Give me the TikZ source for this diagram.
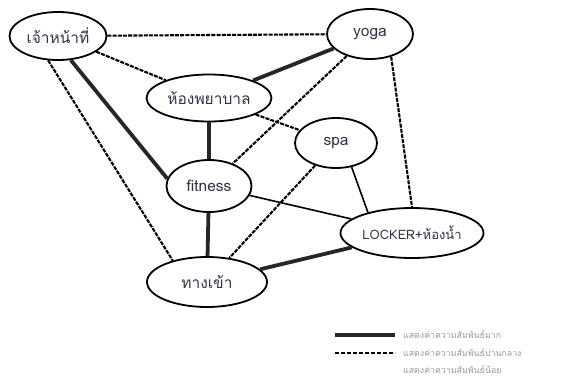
\documentclass[tikz,border=0pt]{standalone}
\usepackage{fontspec}
\setmainfont{Loma}[Script=Thai]
\usetikzlibrary{shapes.geometric}
\definecolor{ink}{RGB}{50,50,70}
\tikzset{
  place/.style={ellipse, draw, line width=1.8pt, inner sep=0pt, font=\fontsize{15.5}{18}\selectfont, text=ink},
  strong/.style={line width=3.8pt, draw=black!85},
  medium/.style={line width=2.1pt, dash pattern=on 4pt off 1.2pt},
  weak/.style={line width=1.6pt},
  legendtext/.style={anchor=west, font=\fontsize{8.8}{10}\selectfont, text=black!40, inner sep=0pt}
}
\begin{document}
\begin{tikzpicture}[x=1pt, y=-1pt]
\useasboundingbox (0,0) rectangle (571,391);

% places
\node[place, minimum width=97pt, minimum height=48pt] (staff)   at (58,36)   {เจ้าหน้าที่};
\node[place, minimum width=86pt, minimum height=50pt] (yoga)    at (370,34)  {yoga};
\node[place, minimum width=125pt, minimum height=47pt] (clinic) at (209,98)  {ห้องพยาบาล};
\node[place, minimum width=82pt, minimum height=50pt] (spa)     at (336,143) {spa};
\node[place, minimum width=85pt, minimum height=52pt] (fitness) at (209,186) {fitness};
\node[place, minimum width=120pt, minimum height=50pt] (entry)  at (207,282) {ทางเข้า};
\node[place, minimum width=143pt, minimum height=50pt, font=\fontsize{13}{15}\selectfont] (locker) at (412,233) {LOCKER+ห้องน้ำ};

% strong relations
\draw[strong] (staff.-62) -- (fitness.170);
\draw[strong] (clinic) -- (yoga);
\draw[strong] (clinic) -- (fitness);
\draw[strong] (fitness) -- (entry);
\draw[strong] (entry) -- (locker);

% medium relations
\draw[medium] (staff) -- (yoga);
\draw[medium] (staff) -- (clinic);
\draw[medium] (staff.-112) -- (entry.148);
\draw[medium] (yoga) -- (fitness);
\draw[medium] (yoga.-47) -- (locker.north);
\draw[medium] (clinic) -- (spa);
\draw[medium] (spa) -- (entry);

% weak relations
\draw[weak] (fitness) -- (locker);
\draw[weak] (spa.-57) -- (locker.155);

% legend
\coordinate (l1a) at (335,335); \coordinate (l1b) at (395,335);
\coordinate (l2a) at (335,353); \coordinate (l2b) at (395,353);
\draw[line width=4pt, draw=black!85] (l1a) -- (l1b);
\draw[line width=2.2pt, dash pattern=on 4pt off 2pt] (l2a) -- (l2b);
\node[legendtext] (t1) at (403,335) {แสดงค่าความสัมพันธ์มาก};
\node[legendtext] (t2) at (403,353) {แสดงค่าความสัมพันธ์ปานกลาง};
\node[legendtext] (t3) at (403,370) {แสดงค่าความสัมพันธ์น้อย};
\end{tikzpicture}
\end{document}
